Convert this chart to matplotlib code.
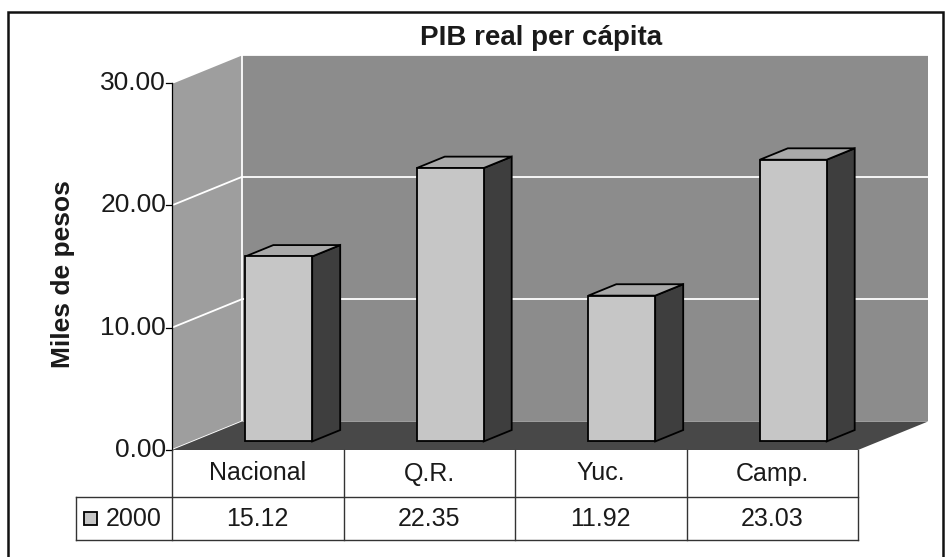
import matplotlib
matplotlib.use("Agg")
import matplotlib.pyplot as plt
from matplotlib.patches import Polygon, Rectangle

plt.rcParams['font.family'] = ['Liberation Sans', 'DejaVu Sans']

# ---- data ----
categories = ["Nacional", "Q.R.", "Yuc.", "Camp."]
values = [15.12, 22.35, 11.92, 23.03]
value_labels = ["15.12", "22.35", "11.92", "23.03"]
series_name = "2000"
y_ticks = [0, 10, 20, 30]
y_tick_labels = ["0.00", "10.00", "20.00", "30.00"]
title = "PIB real per cápita"
y_label = "Miles de pesos"

# ---- style ----
W, H = 946, 557
fig = plt.figure(figsize=(W / 100, H / 100), dpi=100)
fig.patch.set_facecolor("white")

# front plane of the 3D plot in pixels
px_left, px_right, px_top, px_bot = 172, 858, 83, 450
ax = fig.add_axes([px_left / W, (H - px_bot) / H, (px_right - px_left) / W, (px_bot - px_top) / H])
ax.set_xlim(0, len(categories))
ax.set_ylim(0, 30)
ax.axis("off")

ppx = (px_right - px_left) / len(categories)   # pixels per category
ppy = (px_bot - px_top) / 30.0                   # pixels per value unit
DX = 70 / ppx
DY = 28.5 / ppy
n = len(categories)
ymax = 30

back_c = "#8c8c8c"
side_c = "#9e9e9e"
floor_c = "#484848"
front_c = "#c6c6c6"
top_c = "#a9a9a9"
bside_c = "#3e3e3e"
txt_c = "#1a1a1a"
fs = 18
fs_tick = 19

def poly(pts, fc, ec="none", lw=0, z=1):
    p = Polygon(pts, closed=True, facecolor=fc, edgecolor=ec, linewidth=lw, zorder=z, clip_on=False)
    ax.add_patch(p)

# walls
poly([(DX, DY), (n + DX, DY), (n + DX, ymax + DY), (DX, ymax + DY)], back_c, z=1)
poly([(0, 0), (DX, DY), (DX, ymax + DY), (0, ymax)], side_c, z=1)
poly([(0, 0), (n, 0), (n + DX, DY), (DX, DY)], floor_c, z=2)

# gridlines
for t in y_ticks:
    ax.plot([DX, n + DX], [t + DY, t + DY], color="white", lw=1.3, zorder=1.5, clip_on=False)
    ax.plot([0, DX], [t, t + DY], color="white", lw=1.3, zorder=1.5, clip_on=False)
ax.plot([DX, DX], [DY, ymax + DY], color="white", lw=1.3, zorder=1.5, clip_on=False)

# bars
w = 0.39
f0, f1 = 0.3, 0.7
for i, v in enumerate(values):
    x0 = i + 0.5 - w / 2 + f0 * DX
    x1 = x0 + w
    y0 = f0 * DY
    ddx = (f1 - f0) * DX
    ddy = (f1 - f0) * DY
    z = 3 + i * 0.1
    poly([(x1, y0), (x1 + ddx, y0 + ddy), (x1 + ddx, v + y0 + ddy), (x1, v + y0)], bside_c, "black", 1.3, z)
    poly([(x0, v + y0), (x1, v + y0), (x1 + ddx, v + y0 + ddy), (x0 + ddx, v + y0 + ddy)], top_c, "black", 1.3, z)
    poly([(x0, y0), (x1, y0), (x1, v + y0), (x0, v + y0)], front_c, "black", 1.3, z + 0.01)

# value axis
ax.plot([0, 0], [0, ymax], color="black", lw=0.9, zorder=4, clip_on=False)
tick_len = 6 / ppx
for t, lab in zip(y_ticks, y_tick_labels):
    ax.plot([-tick_len, 0], [t, t], color="black", lw=0.9, zorder=4, clip_on=False)
    ax.text(-6 / ppx, t, lab, ha="right", va="center", fontsize=fs_tick, color=txt_c)

ax.text(-109 / ppx, (px_bot - 274) / ppy, y_label, rotation=90, ha="center", va="center",
        fontsize=19, fontweight="bold", color=txt_c)

# title
fig.text(541 / W, 1 - 38 / H, title, ha="center", va="center", fontsize=20, fontweight="bold", color=txt_c)

# data table
r1 = -47 / ppy
r2 = -90 / ppy
leg_x = -96 / ppx
lc = "#333333"
tlw = 1.0
ax.plot([leg_x, n], [r1, r1], color=lc, lw=tlw, clip_on=False, zorder=5)
ax.plot([leg_x, n], [r2, r2], color=lc, lw=tlw, clip_on=False, zorder=5)
ax.plot([leg_x, leg_x], [r1, r2], color=lc, lw=tlw, clip_on=False, zorder=5)
for k in range(n + 1):
    ax.plot([k, k], [0, r2], color=lc, lw=tlw, clip_on=False, zorder=5)
for i, (c, lab) in enumerate(zip(categories, value_labels)):
    ax.text(i + 0.5, r1 / 2, c, ha="center", va="center", fontsize=fs, color=txt_c)
    ax.text(i + 0.5, (r1 + r2) / 2, lab, ha="center", va="center", fontsize=fs, color=txt_c)
# legend key
sq = 13
ax.add_patch(Rectangle((leg_x + 8 / ppx, (r1 + r2) / 2 - sq / 2 / ppy), sq / ppx, sq / ppy,
                       facecolor=front_c, edgecolor="black", lw=1.3, clip_on=False, zorder=6))
ax.text(leg_x + 30 / ppx, (r1 + r2) / 2, series_name, ha="left", va="center", fontsize=fs, color=txt_c)

# outer frame
fig.patches.append(Rectangle((8 / W, -0.05), (943 - 8) / W, 1.05 - 12 / H, transform=fig.transFigure,
                             fill=False, edgecolor="#111111", lw=1.8))

fig.savefig("out.png", dpi=100)
